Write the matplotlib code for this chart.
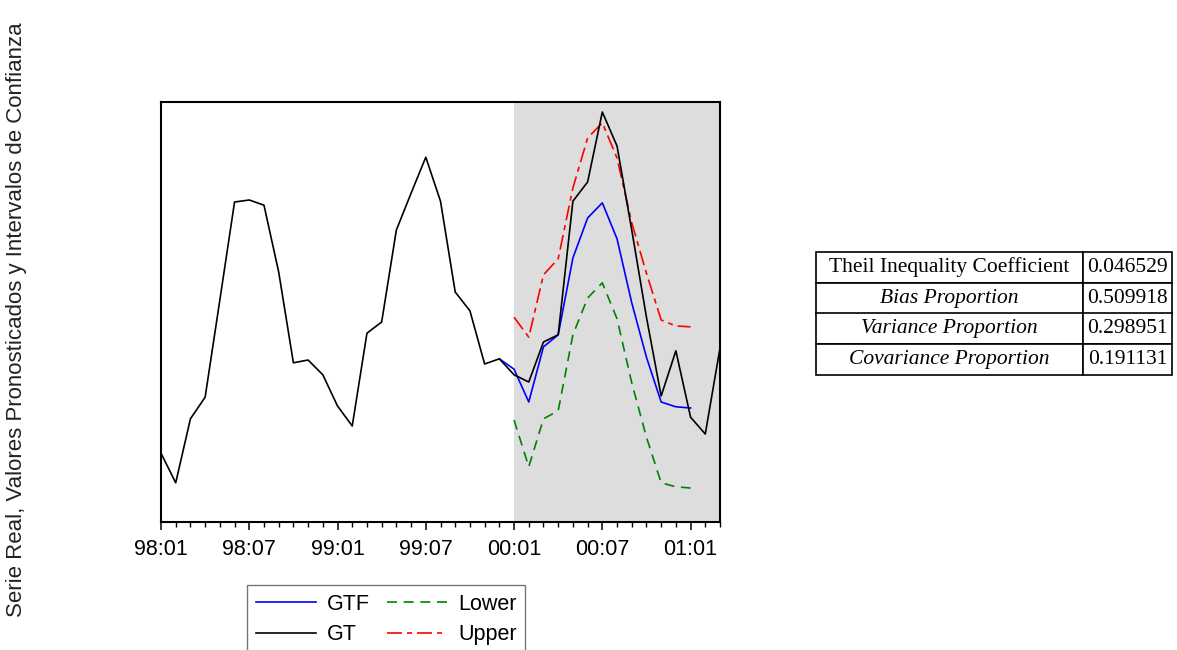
import matplotlib
matplotlib.use("Agg")
import matplotlib.pyplot as plt
import numpy as np

# monthly index: 0 = 98:01 ... 38 = 01:03
GT = [17.2, 9.8, 25.8, 31.2, 55.5, 80.0, 80.5, 79.2, 62.5, 39.8,
      40.5, 36.8, 29.0, 24.0, 47.2, 50.0, 73.0, 82.2, 91.2, 80.2,
      57.5, 52.8, 39.5, 40.8, 36.8, 35.0, 45.0, 46.8, 80.2, 85.0,
      102.5, 94.0, 73.0, 51.2, 31.5, 42.8, 26.2, 22.0, 43.5]
GTF_START = 23
GTF = [40.8, 38.2, 30.0, 43.8, 46.8, 66.0, 76.0, 79.8, 70.8, 54.8,
       41.2, 30.0, 28.8, 28.5]
BAND_START = 24
UPPER = [51.2, 46.2, 61.8, 65.8, 83.5, 96.0, 99.8, 91.0, 74.8, 62.2,
         50.5, 49.0, 48.8]
LOWER = [25.5, 13.8, 25.8, 27.8, 46.8, 56.0, 59.8, 50.8, 34.8, 21.2,
         9.8, 8.8, 8.5]

TICK_POS = [0, 6, 12, 18, 24, 30, 36]
TICK_LABELS = ["98:01", "98:07", "99:01", "99:07", "00:01", "00:07", "01:01"]

STAT_NAMES = ["Theil Inequality Coefficient", "Bias Proportion",
              "Variance Proportion", "Covariance Proportion"]
STAT_VALUES = ["0.046529", "0.509918", "0.298951", "0.191131"]

plt.rcParams["font.family"] = ["Liberation Sans", "DejaVu Sans"]

W, H = 1177, 650
fig = plt.figure(figsize=(W / 100, H / 100), dpi=100)
ax = fig.add_axes([161 / W, 1 - 522 / H, (720 - 161) / W, (522 - 102) / H])

n = len(GT)
x = np.arange(n)
ax.axvspan(BAND_START, n - 1, color="#dddddd", lw=0, zorder=0)

x_gtf = np.arange(GTF_START, GTF_START + len(GTF))
x_band = np.arange(BAND_START, BAND_START + len(UPPER))
l_gtf, = ax.plot(x_gtf, GTF, color="#0000ff", lw=1.2, label="GTF", zorder=3)
l_gt, = ax.plot(x, GT, color="black", lw=1.2, label="GT", zorder=4)
l_lo, = ax.plot(x_band, LOWER, color="#008000", lw=1.2, ls=(0, (6, 4)),
                label="Lower", zorder=2)
l_up, = ax.plot(x_band, UPPER, color="#ff0000", lw=1.2, ls=(0, (9, 3, 3, 3)),
                label="Upper", zorder=2)

ax.set_xlim(0, n - 1)
ax.set_ylim(0, 105)
ax.set_yticks([])
ax.set_xticks(TICK_POS)
ax.set_xticklabels(TICK_LABELS, fontsize=15.5)
ax.set_xticks(x, minor=True)
ax.tick_params(axis="x", which="major", length=6, width=1.1, direction="out", pad=6)
ax.tick_params(axis="x", which="minor", length=3.5, width=1.0, direction="out")
for sp in ax.spines.values():
    sp.set_linewidth(1.5)

fig.text(17 / W, 1 - 320 / H,
         "Serie Real, Valores Pronosticados y Intervalos de Confianza",
         rotation=90, ha="center", va="center", fontsize=16, color="#222222")

leg = fig.legend(handles=[l_gtf, l_gt, l_lo, l_up], ncol=2,
                 loc="upper left", bbox_to_anchor=(247 / W, 1 - 585 / H),
                 fontsize=15.5, frameon=True, fancybox=False, handlelength=2.8,
                 columnspacing=0.8, handletextpad=0.5, borderpad=0.4,
                 labelspacing=0.45, borderaxespad=0)
leg.get_frame().set_edgecolor("#555555")
leg.get_frame().set_linewidth(1.0)

# Theil statistics table
tax = fig.add_axes([816 / W, 1 - 375 / H, (1172 - 816) / W, (375 - 252) / H])
tax.axis("off")
cells = [[a, b] for a, b in zip(STAT_NAMES, STAT_VALUES)]
tbl = tax.table(cellText=cells, colWidths=[267 / 356, 89 / 356],
                cellLoc="center", bbox=[0, 0, 1, 1])
tbl.auto_set_font_size(False)
for (r, c), cell in tbl.get_celld().items():
    cell.set_linewidth(1.2)
    t = cell.get_text()
    t.set_fontfamily("Liberation Serif")
    t.set_fontsize(15.5)
    if c == 0 and r > 0:
        t.set_fontstyle("italic")

fig.savefig("out.png", dpi=100)
